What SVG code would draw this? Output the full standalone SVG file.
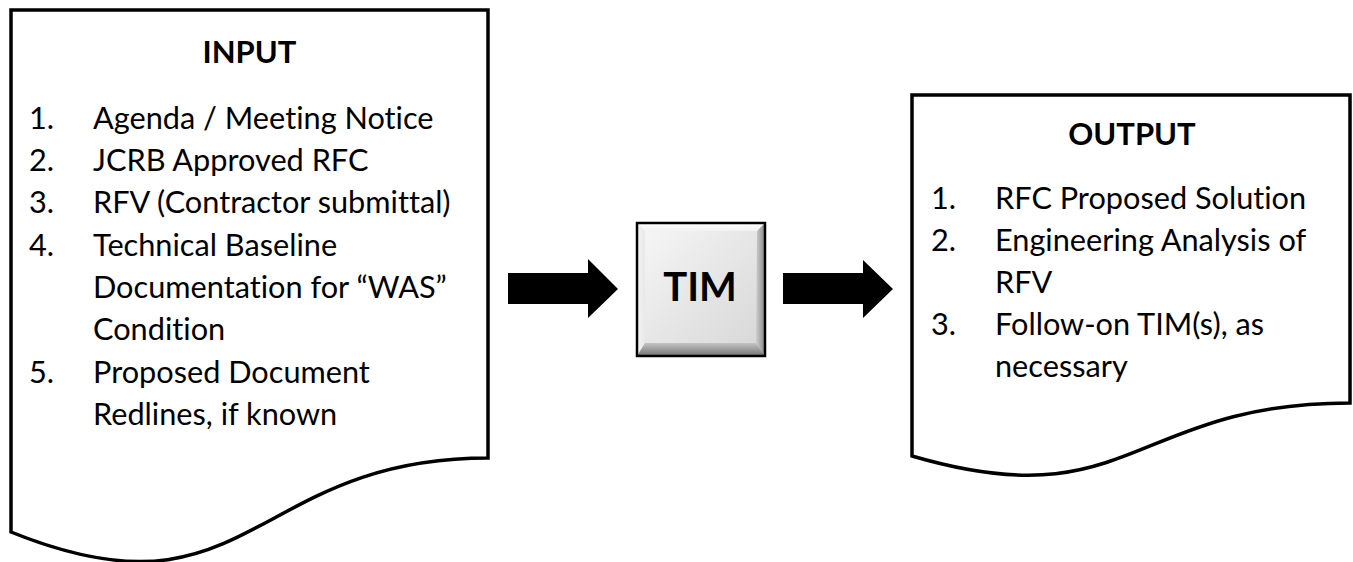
<svg xmlns="http://www.w3.org/2000/svg" width="1353" height="562" viewBox="0 0 1353 562">
  <style>
    .doc { fill: #ffffff; stroke: #000000; stroke-width: 3.5; stroke-linejoin: miter; }
    text { font-variant-ligatures: none; }
    .title { font-family: Lato, "Open Sans", sans-serif; font-weight: bold; font-size: 31px; fill: #000000; text-anchor: middle; }
    .item { font-family: Lato, "Open Sans", sans-serif; font-size: 30.7px; fill: #000000; }
    .tim { font-family: Lato, "Open Sans", sans-serif; font-weight: bold; font-size: 40px; fill: #000000; text-anchor: middle; }
    .arrow { fill: #000000; }
  </style>
  <defs>
    <linearGradient id="faceGrad" x1="0" y1="0" x2="1" y2="1">
      <stop offset="0" stop-color="#f7f7f7"/>
      <stop offset="0.6" stop-color="#e3e3e3"/>
      <stop offset="1" stop-color="#d6d6d6"/>
    </linearGradient>
    <linearGradient id="bottomBevel" x1="0" y1="0" x2="0" y2="1">
      <stop offset="0" stop-color="#c4c4c4"/>
      <stop offset="1" stop-color="#737373"/>
    </linearGradient>
    <linearGradient id="rightBevel" x1="0" y1="0" x2="1" y2="0">
      <stop offset="0" stop-color="#cfcfcf"/>
      <stop offset="1" stop-color="#858585"/>
    </linearGradient>
    <linearGradient id="topBevel" x1="0" y1="0" x2="0" y2="1">
      <stop offset="0" stop-color="#ffffff"/>
      <stop offset="1" stop-color="#f2f2f2"/>
    </linearGradient>
    <linearGradient id="leftBevel" x1="0" y1="0" x2="1" y2="0">
      <stop offset="0" stop-color="#f4f4f4"/>
      <stop offset="1" stop-color="#e8e8e8"/>
    </linearGradient>
  </defs>

  <!-- Input document -->
  <g id="input">
    <path class="doc" d="M 11 10 H 488 V 458 C 249.5 458 249.5 628.7 11 532 Z"/>
    <text class="title" x="249.5" y="63">INPUT</text>
    <text class="item" x="29" y="129">1.</text>
    <text class="item" x="93" y="129">Agenda / Meeting Notice</text>
    <text class="item" x="29" y="171">2.</text>
    <text class="item" x="93" y="171">JCRB Approved RFC</text>
    <text class="item" x="29" y="213">3.</text>
    <text class="item" x="93" y="213">RFV (Contractor submittal)</text>
    <text class="item" x="29" y="256">4.</text>
    <text class="item" x="93" y="256">Technical Baseline</text>
    <text class="item" x="93" y="298">Documentation for “WAS”</text>
    <text class="item" x="93" y="340">Condition</text>
    <text class="item" x="29" y="383">5.</text>
    <text class="item" x="93" y="383">Proposed Document</text>
    <text class="item" x="93" y="425">Redlines, if known</text>
  </g>

  <!-- TIM bevelled block -->
  <g id="tim">
    <rect x="637" y="223" width="128" height="133" fill="url(#faceGrad)"/>
    <polygon points="637,223 765,223 757,231 645,231" fill="url(#topBevel)"/>
    <polygon points="637,223 645,231 645,343 637,356" fill="url(#leftBevel)"/>
    <polygon points="765,223 765,356 756,343 757,231" fill="url(#rightBevel)"/>
    <polygon points="637,356 765,356 756,343 645,343" fill="url(#bottomBevel)"/>
    <rect x="637" y="223" width="128" height="133" fill="none" stroke="#000000" stroke-width="2.5"/>
    <text class="tim" x="700" y="301">TIM</text>
  </g>

  <!-- Output document -->
  <g id="output">
    <path class="doc" d="M 912 95 H 1350 V 403 C 1131 403 1131 520.3 912 456 Z"/>
    <text class="title" x="1132" y="145">OUTPUT</text>
    <text class="item" x="931" y="209">1.</text>
    <text class="item" x="995" y="209">RFC Proposed Solution</text>
    <text class="item" x="931" y="251">2.</text>
    <text class="item" x="995" y="251">Engineering Analysis of</text>
    <text class="item" x="995" y="293">RFV</text>
    <text class="item" x="931" y="335">3.</text>
    <text class="item" x="995" y="335">Follow-on TIM(s), as</text>
    <text class="item" x="995" y="377">necessary</text>
  </g>

  <!-- Flow arrows -->
  <g id="connectors">
    <polygon class="arrow" points="508,273 588,273 588,259 618,289 588,318 588,304 508,304"/>
    <polygon class="arrow" points="783,273 863,273 863,260 893,289 863,318 863,304 783,304"/>
  </g>
</svg>
